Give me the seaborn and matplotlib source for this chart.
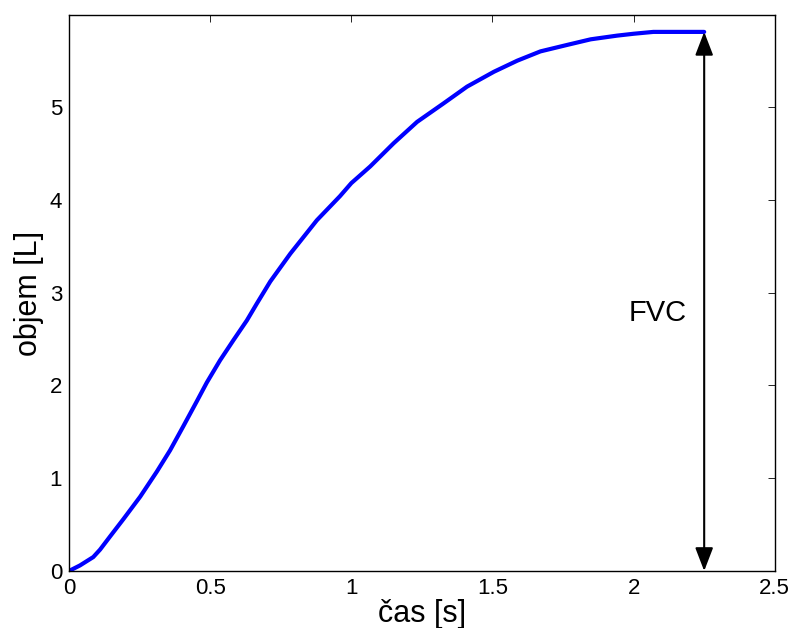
import matplotlib
matplotlib.use("Agg")
import matplotlib.pyplot as plt
import pandas as pd
import seaborn as sns

# time [s] and volume [L]
cas = [0.0, 0.039, 0.086, 0.11, 0.145, 0.193, 0.252, 0.311, 0.358, 0.405,
       0.453, 0.488, 0.535, 0.583, 0.63, 0.665, 0.713, 0.784, 0.878, 0.96,
       1.0, 1.067, 1.15, 1.233, 1.327, 1.41, 1.505, 1.588, 1.67, 1.765,
       1.848, 1.942, 2.0, 2.07, 2.25]
objem = [0.0, 0.06, 0.15, 0.23, 0.37, 0.56, 0.80, 1.07, 1.30, 1.56,
         1.83, 2.03, 2.27, 2.49, 2.70, 2.88, 3.12, 3.42, 3.78, 4.04,
         4.18, 4.36, 4.61, 4.84, 5.04, 5.22, 5.38, 5.50, 5.60, 5.67,
         5.73, 5.77, 5.79, 5.81, 5.81]
fvc = 5.81
t_end = 2.25

x_ticks = [0, 0.5, 1, 1.5, 2, 2.5]
x_ticklabels = ["0", "0.5", "1", "1.5", "2", "2.5"]
y_ticks = [0, 1, 2, 3, 4, 5]

sns.set_style("white")
plt.rcParams['font.family'] = ['Liberation Sans', 'DejaVu Sans']
plt.rcParams['text.color'] = 'k'
plt.rcParams['axes.labelcolor'] = 'k'

df = pd.DataFrame({"cas": cas, "objem": objem})

fig = plt.figure(figsize=(7.93, 6.28), dpi=100)
ax = fig.add_axes([0.087, 0.0908, 0.890, 0.885])

sns.lineplot(data=df, x="cas", y="objem", ax=ax, color="#0000ff",
             linewidth=3, estimator=None, sort=False)

# FVC arrow
ax.annotate("", xy=(t_end, fvc), xytext=(t_end, 0),
            arrowprops=dict(arrowstyle="<|-|>,head_length=0.65,head_width=0.25",
                            color="k", lw=1.5, mutation_scale=22,
                            shrinkA=0, shrinkB=0))
ax.text(2.19, 2.78, "FVC", ha="right", va="center", fontsize=21)

ax.set_xlim(0, 2.5)
ax.set_ylim(0, 5.99)
ax.set_xticks(x_ticks)
ax.set_xticklabels(x_ticklabels)
ax.set_yticks(y_ticks)
ax.tick_params(direction="in", length=5, width=0.6, labelsize=16,
               top=True, right=True, colors="k", pad=5)
for sp in ax.spines.values():
    sp.set_color("k")
    sp.set_linewidth(1.0)

ax.set_xlabel("čas [s]", fontsize=22, labelpad=0)
ax.set_ylabel("objem [L]", fontsize=22, labelpad=4)

fig.savefig("out.png", dpi=100)
